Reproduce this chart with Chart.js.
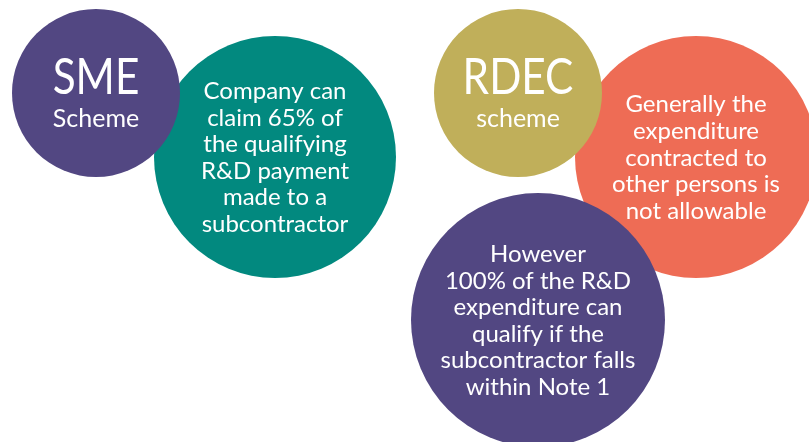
<!DOCTYPE html>
<html>
<head>
<meta charset="utf-8">
<script src="https://cdn.jsdelivr.net/npm/chart.js@4/dist/chart.umd.min.js"></script>
<style>
  html, body { margin: 0; padding: 0; background: #fff; }
  #wrap { width: 809px; height: 442px; }
</style>
</head>
<body>
<div id="wrap"><canvas id="schemeChart" width="809" height="442"></canvas></div>
<script>
// circles in draw order (later ones sit on top)
const circleNames = ['SME note', 'RDEC note', 'SME', 'RDEC', 'Note 1'];
const centreX = [275, 696, 96, 518, 538];
const centreY = [157, 157, 93, 93, 320];
const radius = [121, 121, 84, 84, 127];
const circleText = [
    ['Company can', 'claim 65% of', 'the qualifying', 'R&D payment', 'made to a', 'subcontractor'],
    ['Generally the', 'expenditure', 'contracted to', 'other persons is', 'not allowable'],
    ['SME', 'Scheme'],
    ['RDEC', 'scheme'],
    ['However', '100% of the R&D', 'expenditure can', 'qualify if the', 'subcontractor falls', 'within Note 1']
];

const fills = ['#02897f', '#ee6c55', '#524782', '#c0af5a', '#524782'];
const FONT = 'Lato, "Open Sans", sans-serif';

// text inside each bubble, centred on the bubble
const bubbleText = {
    id: 'bubbleText',
    afterDatasetsDraw(chart) {
        const ctx = chart.ctx;
        const xs = chart.scales.x, ys = chart.scales.y;
        ctx.save();
        ctx.fillStyle = '#ffffff';
        ctx.textAlign = 'center';
        ctx.textBaseline = 'alphabetic';
        circleText.forEach(function (lines, i) {
            const cx = xs.getPixelForValue(centreX[i]);
            const cy = ys.getPixelForValue(centreY[i]);
            if (lines.length === 2) {
                // title circle: big word + smaller word (squeezed, the original face is narrow)
                ctx.font = '400 51px ' + FONT;
                ctx.fillText(lines[0], cx, cy + 1, ctx.measureText(lines[0]).width * 0.83);
                ctx.font = '400 25px ' + FONT;
                ctx.fillText(lines[1], cx, cy + 34);
            } else {
                const lh = 26.6, cap = 17;
                const top = cy - (cap + (lines.length - 1) * lh) / 2 + cap;
                ctx.font = '400 24px ' + FONT;
                lines.forEach(function (t, j) {
                    ctx.fillText(t, cx, top + j * lh);
                });
            }
        });
        ctx.restore();
    }
};

new Chart(document.getElementById('schemeChart'), {
    type: 'bubble',
    data: {
        labels: circleNames,
        datasets: [{
            data: centreX.map(function (x, i) { return { x: x, y: centreY[i], r: radius[i] }; }),
            backgroundColor: fills,
            borderWidth: 0,
            hoverBorderWidth: 0,
            hoverRadius: 0
        }]
    },
    options: {
        responsive: false,
        animation: false,
        layout: { padding: 0, autoPadding: false },
        scales: {
            x: { display: false, min: 0, max: 809 },
            y: { display: false, min: 0, max: 442, reverse: true }
        },
        plugins: {
            legend: { display: false },
            tooltip: { enabled: false }
        }
    },
    plugins: [bubbleText]
});
</script>
</body>
</html>
